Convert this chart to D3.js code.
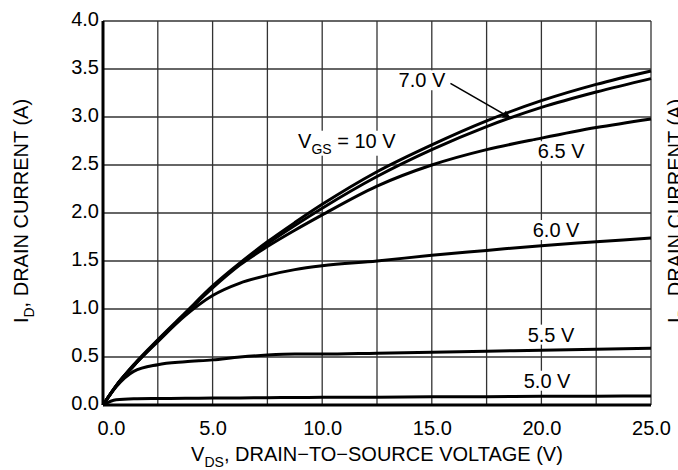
<!DOCTYPE html>
<html>
<head>
<meta charset="utf-8">
<script src="https://cdn.jsdelivr.net/npm/d3@7"></script>
<style>
  body { margin: 0; background: #fff; }
  text { font-family: "Liberation Sans", Arial, Helvetica, sans-serif; fill: #000; }
</style>
</head>
<body>
<div id="vis"></div>
<script>
// drain-to-source voltage samples (V), shared by every curve
let vds = [0, 0.6, 1.4, 2.5, 3.75, 5, 6.25, 7.5, 8.75, 10, 12.5, 15, 17.5, 20, 22.5, 25];

// drain current (A) for each gate voltage
let id10V  = [0, 0.20, 0.42, 0.68, 0.96, 1.24, 1.48, 1.70, 1.90, 2.09, 2.43, 2.71, 2.96, 3.17, 3.34, 3.48];
let id7V   = [0, 0.20, 0.41, 0.67, 0.95, 1.23, 1.47, 1.68, 1.87, 2.05, 2.38, 2.66, 2.90, 3.10, 3.26, 3.40];
let id6_5V = [0, 0.20, 0.41, 0.67, 0.95, 1.22, 1.46, 1.65, 1.82, 1.98, 2.28, 2.50, 2.66, 2.78, 2.89, 2.98];
let id6V   = [0, 0.20, 0.41, 0.66, 0.93, 1.14, 1.27, 1.35, 1.41, 1.45, 1.50, 1.56, 1.61, 1.66, 1.70, 1.74];
let id5_5V = [0, 0.19, 0.35, 0.42, 0.45, 0.47, 0.50, 0.52, 0.53, 0.53, 0.54, 0.55, 0.56, 0.57, 0.58, 0.59];
let id5V   = [0, 0.055, 0.065, 0.068, 0.07, 0.072, 0.074, 0.076, 0.078, 0.08, 0.082, 0.085, 0.087, 0.09, 0.092, 0.094];

let gateLabels = ['10 V', '7.0 V', '6.5 V', '6.0 V', '5.5 V', '5.0 V'];

// axis ticks
let xTicks = [0, 5, 10, 15, 20, 25];
let xGrid  = [2.5, 5, 7.5, 10, 12.5, 15, 17.5, 20, 22.5, 25];
let yTicks = [0, 0.5, 1, 1.5, 2, 2.5, 3, 3.5, 4];

let margin = {
    top   : 21,
    left  : 103,
    right : 27,
    bottom: 65
  },
  width  = 678 - margin.left - margin.right,
  height = 470 - margin.top - margin.bottom;

let svg = d3.select('#vis')
  .append('svg')
    .attr('width', 678)
    .attr('height', 470)
    .style('display', 'block');

let g = svg.append('g')
  .attr('transform', 'translate(' + margin.left + ',' + margin.top + ')');

let x = d3.scaleLinear().domain([0, 25]).range([0, width]);
let y = d3.scaleLinear().domain([0, 4]).range([height, 0]);

// grid
g.append('g')
  .selectAll('line')
  .data(xGrid)
  .join('line')
    .attr('x1', d => x(d))
    .attr('x2', d => x(d))
    .attr('y1', 0)
    .attr('y2', height)
    .attr('stroke', '#333')
    .attr('stroke-width', 1.3);

g.append('g')
  .selectAll('line')
  .data(yTicks.slice(1))
  .join('line')
    .attr('x1', 0)
    .attr('x2', width)
    .attr('y1', d => y(d))
    .attr('y2', d => y(d))
    .attr('stroke', '#333')
    .attr('stroke-width', 1.3);

// axes, text only; frame drawn below
let xAxis = g.append('g')
  .attr('transform', 'translate(0,' + height + ')')
  .call(d3.axisBottom(x).tickValues(xTicks).tickSize(0).tickPadding(16).tickFormat(d3.format('.1f')));

let yAxis = g.append('g')
  .call(d3.axisLeft(y).tickValues(yTicks).tickSize(0).tickPadding(4).tickFormat(d3.format('.1f')));

[xAxis, yAxis].forEach(function(a) {
  a.select('.domain').remove();
  a.selectAll('text')
    .attr('font-family', '"Liberation Sans", Arial, sans-serif')
    .attr('font-size', 20)
    .attr('fill', '#000');
});
yAxis.selectAll('text').attr('dy', '0.22em');
xAxis.selectAll('text').filter(d => d === 0).attr('dx', 8);

// thick left / bottom frame
g.append('line')
  .attr('x1', 0).attr('x2', 0)
  .attr('y1', 0).attr('y2', height)
  .attr('stroke', '#000')
  .attr('stroke-width', 3);
g.append('line')
  .attr('x1', 0).attr('x2', width)
  .attr('y1', height).attr('y2', height)
  .attr('stroke', '#000')
  .attr('stroke-width', 3);

// curves
let series = [id10V, id7V, id6_5V, id6V, id5_5V, id5V];
let line = d3.line()
  .x((d, i) => x(vds[i]))
  .y(d => y(d))
  .curve(d3.curveMonotoneX);

g.append('g')
  .selectAll('path')
  .data(series)
  .join('path')
    .attr('d', d => line(d))
    .attr('fill', 'none')
    .attr('stroke', '#000')
    .attr('stroke-width', 3)
    .attr('stroke-linejoin', 'round');

// write text pieces, some of them as subscripts
function addParts(sel, parts) {
  let wasSub = false;
  parts.forEach(function(p) {
    let sub = !!p[1];
    sel.append('tspan')
      .attr('font-size', sub ? 14 : 20)
      .attr('dy', sub === wasSub ? 0 : (sub ? 6 : -6))
      .text(p[0]);
    wasSub = sub;
  });
}

// curve labels, placed in data units
let notes = [
  { parts: [['V'], ['GS', 1], [' = ' + gateLabels[0]]], v: 8.9,   i: 2.68, anchor: 'start' },
  { parts: [[gateLabels[1]]],                          v: 14.55, i: 3.31, anchor: 'middle' },
  { parts: [[gateLabels[2]]],                          v: 20.9,  i: 2.57, anchor: 'middle' },
  { parts: [[gateLabels[3]]],                          v: 20.67, i: 1.75, anchor: 'middle' },
  { parts: [[gateLabels[4]]],                          v: 20.44, i: 0.66, anchor: 'middle' },
  { parts: [[gateLabels[5]]],                          v: 20.26, i: 0.18, anchor: 'middle' }
];

notes.forEach(function(n) {
  let t = g.append('text')
    .attr('x', x(n.v))
    .attr('y', y(n.i))
    .attr('text-anchor', n.anchor)
    .attr('font-size', 20);
  addParts(t, n.parts);
  let b = t.node().getBBox();
  g.insert('rect', function() { return t.node(); })
    .attr('x', b.x - 5)
    .attr('y', b.y + 1)
    .attr('width', b.width + 10)
    .attr('height', b.height - 2)
    .attr('fill', '#fff');
});

// arrow from the 7.0 V label to its curve
svg.append('defs')
  .append('marker')
    .attr('id', 'head')
    .attr('viewBox', '0 0 10 10')
    .attr('refX', 10)
    .attr('refY', 5)
    .attr('markerWidth', 12)
    .attr('markerHeight', 8)
    .attr('markerUnits', 'userSpaceOnUse')
    .attr('orient', 'auto')
  .append('path')
    .attr('d', 'M0,0L10,5L0,10Z')
    .attr('fill', '#000');

g.append('line')
  .attr('x1', x(15.85)).attr('y1', y(3.35))
  .attr('x2', x(18.6)).attr('y2', y(2.99))
  .attr('stroke', '#000')
  .attr('stroke-width', 1.6)
  .attr('marker-end', 'url(#head)');

// axis titles
let xTitle = svg.append('text')
  .attr('x', margin.left + width / 2)
  .attr('y', 461)
  .attr('text-anchor', 'middle')
  .attr('font-size', 20);
addParts(xTitle, [['V'], ['DS', 1], [', DRAIN\u2212TO\u2212SOURCE VOLTAGE (V)']]);

// left title, and the clipped one of the neighbouring chart on the right
[28, 682].forEach(function(px) {
  let t = svg.append('text')
    .attr('transform', 'translate(' + px + ',211) rotate(-90)')
    .attr('text-anchor', 'middle')
    .attr('font-size', 20);
  addParts(t, [['I'], ['D', 1], [', DRAIN CURRENT (A)']]);
});
</script>
</body>
</html>
